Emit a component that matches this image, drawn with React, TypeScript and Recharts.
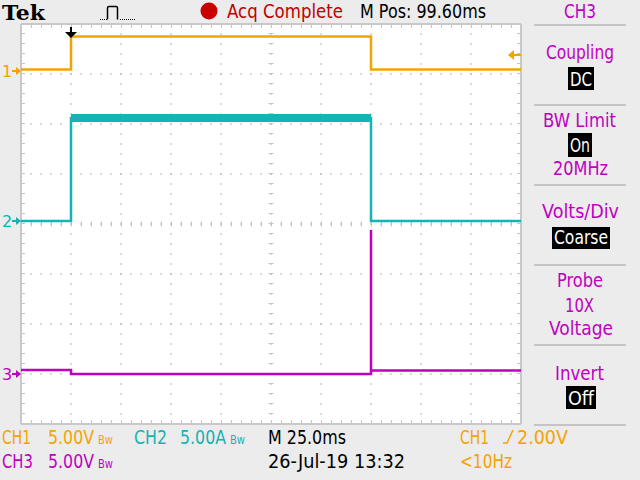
import React from 'react';
import { LineChart, Line, XAxis, YAxis, CartesianGrid, ReferenceLine, ReferenceDot } from 'recharts';

// time in ms from left edge of screen (25 ms/div, 10 div), levels in divisions from screen centre
const TIME_EDGES = [0, 25, 25, 175, 175, 250];
const CH1_LEVEL = [3.09, 3.09, 3.75, 3.75, 3.09, 3.09];
const CH2_LEVEL = [0.06, 0.06, 2.12, 2.12, 0.06, 0.06];
const CH2_BAND_TIME = [25, 175];
const CH2_BAND_LEVEL = [2.12, 2.12];
const CH3_TIME = [0, 25, 25, 175, 175, 175, 250];
const CH3_LEVEL = [-2.92, -2.92, -3.0, -3.0, -0.12, -2.93, -2.93];
const GROUND_LABELS = ['1', '2', '3'];
const GROUND_LEVELS = [3.06, 0.06, -3.0];
const TRIGGER_TIME = 25;
const TRIGGER_LEVEL = 3.38;
const X_TICKS = [0, 25, 50, 75, 100, 125, 150, 175, 200, 225, 250];
const Y_TICKS = [-4, -3, -2, -1, 0, 1, 2, 3, 4];

const C1 = '#f5a300';
const C2 = '#12b4b4';
const C3 = '#c000c0';
const GRID = '#b4b4b4';
const TICKC = '#c4c4c4';

const zip = (ts: number[], vs: number[]) => ts.map((t, i) => ({ t, v: vs[i] }));
const ch1Data = zip(TIME_EDGES, CH1_LEVEL);
const ch2Data = zip(TIME_EDGES, CH2_LEVEL);
const ch2Band = zip(CH2_BAND_TIME, CH2_BAND_LEVEL);
const ch3Data = zip(CH3_TIME, CH3_LEVEL);
const COLORS = [C1, C2, C3];

const groundShape = (label: string, color: string) => (p: any) => (
  <g>
    <text x={p.cx - 19} y={p.cy + 6} fontSize={16} fontFamily="DejaVu Sans" fill={color}>{label}</text>
    <line x1={p.cx - 9} y1={p.cy} x2={p.cx - 3} y2={p.cy} stroke={color} strokeWidth={2} />
    <path d={`M${p.cx - 5},${p.cy - 4} L${p.cx},${p.cy} L${p.cx - 5},${p.cy + 4} Z`} fill={color} />
  </g>
);

const trigPosShape = (p: any) => (
  <g>
    <line x1={p.cx} y1={p.cy + 3} x2={p.cx} y2={p.cy + 9} stroke="#000" strokeWidth={2} />
    <path d={`M${p.cx - 6},${p.cy + 8} L${p.cx + 6},${p.cy + 8} L${p.cx},${p.cy + 14} Z`} fill="#000" />
  </g>
);

const trigLevelShape = (p: any) => (
  <g>
    <line x1={p.cx - 8} y1={p.cy} x2={p.cx} y2={p.cy} stroke={C1} strokeWidth={2} />
    <path d={`M${p.cx - 7},${p.cy - 5} L${p.cx - 13},${p.cy} L${p.cx - 7},${p.cy + 5} Z`} fill={C1} />
  </g>
);

const T = ({ x, y, len, fill, size = 19, children, weight, family }: any) => (
  <text x={x} y={y} textLength={len} lengthAdjust="spacingAndGlyphs" fontSize={size} fill={fill}
    fontFamily={family || 'DejaVu Sans'} fontWeight={weight}>{children}</text>
);

const Box = ({ x, y, w, h, tx, ty, len, children }: any) => (
  <g>
    <rect x={x} y={y} width={w} height={h} fill="#000" />
    <T x={tx} y={ty} len={len} fill="#fff">{children}</T>
  </g>
);

// scale value followed by the small bandwidth-limit glyph (narrow font stretched vertically)
const Scale = ({ x, y, fill, value }: any) => (
  <g>
    <g transform={`translate(${x},${y}) scale(1,1.2)`}>
      <T x={0} y={0} len={46} size={16} fill={fill}>{value}</T>
    </g>
    <g transform={`translate(${x + 50},${y}) scale(1,1.15)`}>
      <T x={0} y={0} len={15} size={11} fill={fill}>Bw</T>
    </g>
  </g>
);

export default function App() {
  return (
    <div style={{ position: 'absolute', left: 0, top: 0, width: 640, height: 480, background: '#ececec', overflow: 'hidden' }}>
      <LineChart width={640} height={480} margin={{ top: 24, right: 119, bottom: 56, left: 21 }}>
        <CartesianGrid fill="#ffffff" stroke={GRID} strokeDasharray="2 8" strokeDashoffset={1} />
        <XAxis type="number" dataKey="t" domain={[0, 250]} ticks={X_TICKS} hide allowDataOverflow />
        <YAxis type="number" dataKey="v" domain={[-4, 4]} ticks={Y_TICKS} hide allowDataOverflow />
        {/* centre crosshair minor ticks */}
        <ReferenceLine y={0} stroke={TICKC} strokeWidth={5} strokeDasharray="1 9" />
        <ReferenceLine x={125} stroke={TICKC} strokeWidth={5} strokeDasharray="1 9" />
        {/* edge minor ticks */}
        <ReferenceLine y={3.96} stroke={TICKC} strokeWidth={4} strokeDasharray="1 9" />
        <ReferenceLine y={-3.96} stroke={TICKC} strokeWidth={4} strokeDasharray="1 9" />
        <ReferenceLine x={1} stroke={TICKC} strokeWidth={4} strokeDasharray="1 9" />
        <ReferenceLine x={249} stroke={TICKC} strokeWidth={4} strokeDasharray="1 9" />
        {/* border */}
        <ReferenceLine y={4} stroke="#c8c8c8" strokeWidth={2} />
        <ReferenceLine y={-4} stroke="#c8c8c8" strokeWidth={2} />
        <ReferenceLine x={0} stroke="#c8c8c8" strokeWidth={2} />
        <ReferenceLine x={250} stroke="#c8c8c8" strokeWidth={2} />
        <Line data={ch3Data} dataKey="v" type="linear" stroke={C3} strokeWidth={2.5} dot={false} isAnimationActive={false} />
        <Line data={ch2Data} dataKey="v" type="linear" stroke={C2} strokeWidth={2.5} dot={false} isAnimationActive={false} />
        <Line data={ch2Band} dataKey="v" type="linear" stroke={C2} strokeWidth={8} dot={false} isAnimationActive={false} />
        <Line data={ch1Data} dataKey="v" type="linear" stroke={C1} strokeWidth={2.5} dot={false} isAnimationActive={false} />
        {GROUND_LEVELS.map((g, i) => (
          <ReferenceDot key={i} x={0} y={g} ifOverflow="visible" shape={groundShape(GROUND_LABELS[i], COLORS[i])} />
        ))}
        <ReferenceDot x={TRIGGER_TIME} y={4} ifOverflow="visible" shape={trigPosShape} />
        <ReferenceDot x={250} y={TRIGGER_LEVEL} ifOverflow="visible" shape={trigLevelShape} />
      </LineChart>
      <svg width={640} height={480} style={{ position: 'absolute', left: 0, top: 0, pointerEvents: 'none' }}>
        {/* header */}
        <T x={2} y={20} len={43} fill="#000" size={21} weight="bold" family="DejaVu Serif">Tek</T>
        <line x1={100} y1={19.5} x2={107} y2={19.5} stroke="#000" strokeWidth={1} strokeDasharray="1 1" />
        <path d="M107.5,19.5 V8 Q107.5,6.5 109,6.5 H116 Q117.5,6.5 117.5,8 V19.5" stroke="#000" strokeWidth={1.5} fill="none" />
        <line x1={120} y1={19.5} x2={136} y2={19.5} stroke="#000" strokeWidth={1} strokeDasharray="1 1" />
        <circle cx={209} cy={11} r={8.5} fill="#c80000" />
        <T x={227} y={18} len={116} fill="#c00000">Acq Complete</T>
        <T x={360} y={18} len={126} fill="#000">M Pos: 99.60ms</T>
        <T x={564} y={18} len={32} fill={C3}>CH3</T>
        {/* right menu */}
        {[25, 105, 185, 265, 345, 425].map((y) => (
          <line key={y} x1={534} y1={y} x2={626} y2={y} stroke="#c4c4c4" strokeWidth={2} />
        ))}
        <T x={546} y={59} len={68} fill={C3}>Coupling</T>
        <Box x={568} y={67} w={26} h={23} tx={570} ty={86} len={22}>DC</Box>
        <T x={543} y={127} len={73} fill={C3}>BW Limit</T>
        <Box x={568} y={133} w={24} h={24} tx={570} ty={152} len={20}>On</Box>
        <T x={553} y={175} len={55} fill={C3}>20MHz</T>
        <T x={542} y={218} len={77} fill={C3}>Volts/Div</T>
        <Box x={552} y={227} w={58} h={22} tx={554} ty={244} len={54}>Coarse</Box>
        <T x={557} y={287} len={46} fill={C3}>Probe</T>
        <T x={565} y={312} len={29} fill={C3}>10X</T>
        <T x={549} y={335} len={64} fill={C3}>Voltage</T>
        <T x={555} y={380} len={49} fill={C3}>Invert</T>
        <Box x={566} y={386} w={30} h={23} tx={568} ty={405} len={26}>Off</Box>
        {/* footer */}
        <T x={2} y={444} len={29} fill={C1}>CH1</T>
        <Scale x={48} y={444} fill={C1} value="5.00V" />
        <T x={134} y={444} len={33} fill={C2}>CH2</T>
        <Scale x={180} y={444} fill={C2} value="5.00A" />
        <T x={268} y={444} len={78} fill="#000">M 25.0ms</T>
        <T x={460} y={444} len={29} fill={C1}>CH1</T>
        <path d="M503,443 H507 L513,430" stroke={C1} strokeWidth={1.5} fill="none" />
        <T x={517} y={444} len={51} fill={C1}>2.00V</T>
        <T x={2} y={468} len={31} fill={C3}>CH3</T>
        <Scale x={48} y={468} fill={C3} value="5.00V" />
        <T x={268} y={468} len={137} fill="#000">26-Jul-19 13:32</T>
        <T x={460} y={468} len={52} fill={C1}>&lt;10Hz</T>
      </svg>
    </div>
  );
}
